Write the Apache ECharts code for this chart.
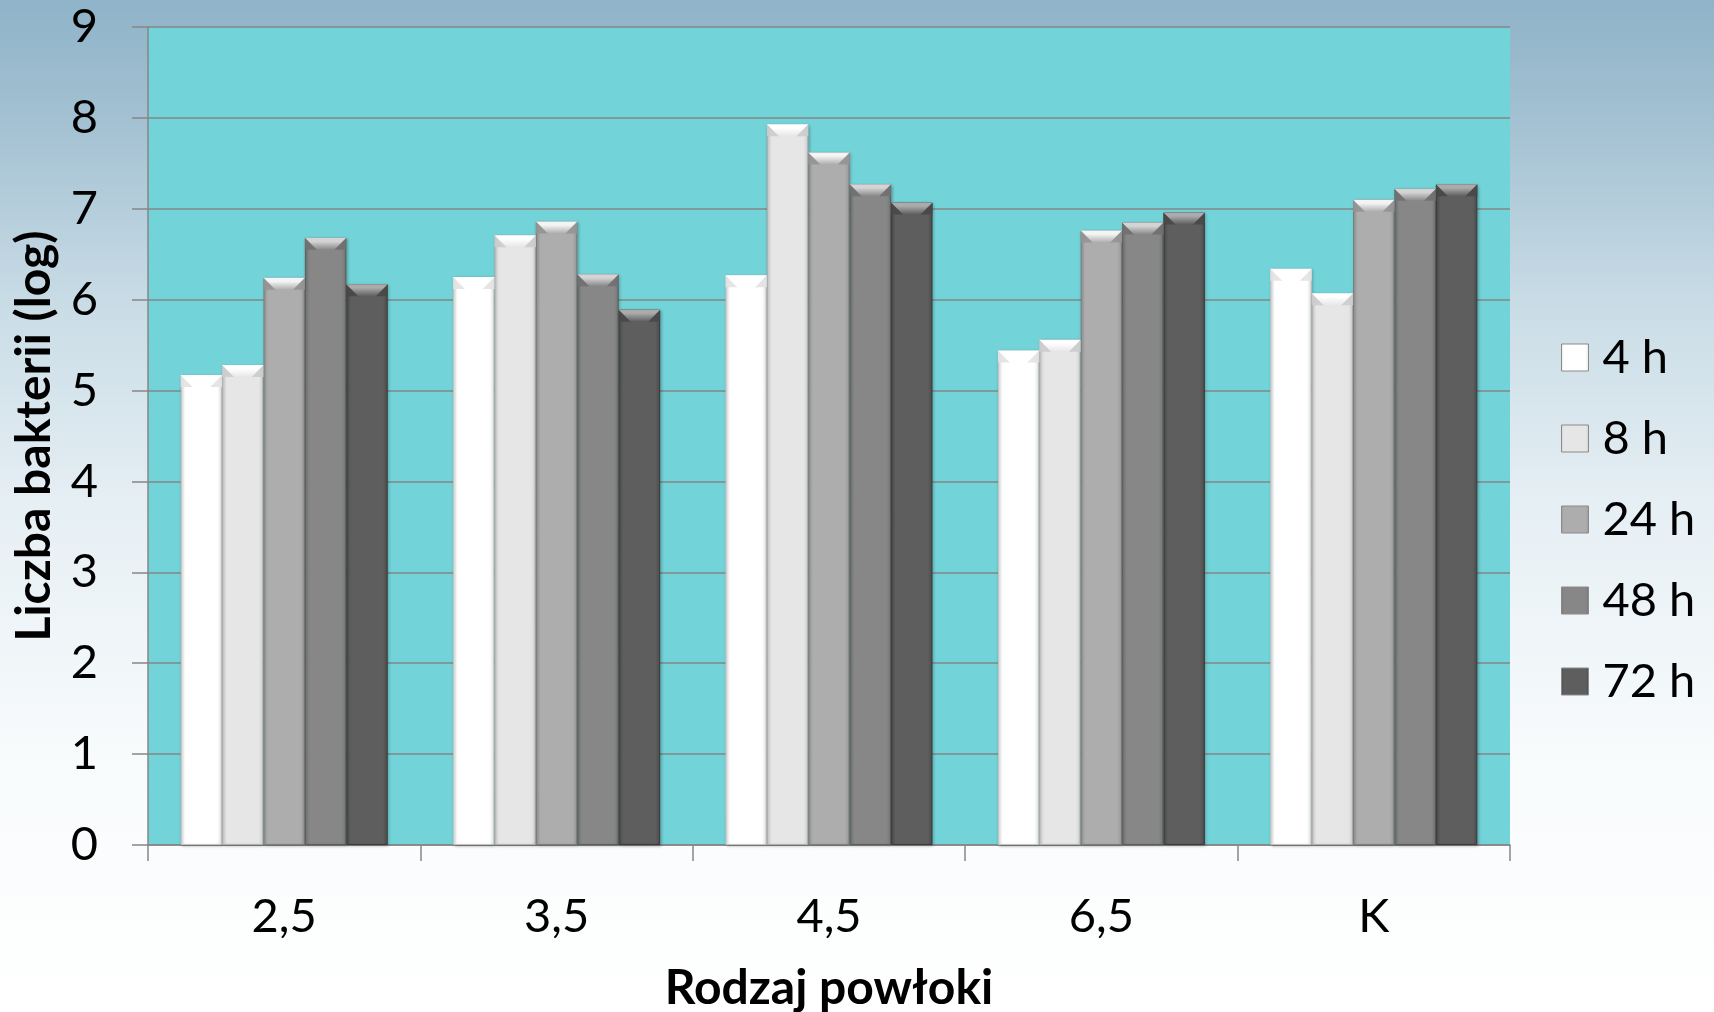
<!DOCTYPE html>
<html>
<head>
<meta charset="utf-8">
<script src="https://cdn.jsdelivr.net/npm/echarts@6/dist/echarts.min.js"></script>
<style>
  html, body { margin: 0; padding: 0; }
  #chart { width: 1714px; height: 1012px; }
</style>
</head>
<body>
<div id="chart"></div>
<script>
// Coating types and bacterial counts (log) after each incubation time
const categories = ['2,5', '3,5', '4,5', '6,5', 'K'];
const seriesNames = ['4 h', '8 h', '24 h', '48 h', '72 h'];
const values4h  = [5.17, 6.25, 6.27, 5.44, 6.34];
const values8h  = [5.28, 6.71, 7.93, 5.56, 6.07];
const values24h = [6.24, 6.86, 7.62, 6.76, 7.10];
const values48h = [6.68, 6.28, 7.27, 6.85, 7.22];
const values72h = [6.17, 5.89, 7.07, 6.96, 7.27];
const yTicks = [0, 1, 2, 3, 4, 5, 6, 7, 8, 9];

const allValues = [values4h, values8h, values24h, values48h, values72h];

// grey shades: face, edge, border, light top facet, side facets
const shades = [
  { face: '#ffffff', edge: '#e2e2e2', border: '#c4c4c4', light: '#ffffff', side: '#e2e2e2' },
  { face: '#e6e6e6', edge: '#d0d0d0', border: '#aeaeae', light: '#ffffff', side: '#cccccc' },
  { face: '#adadad', edge: '#999999', border: '#7c7c7c', light: '#f4f4f4', side: '#949494' },
  { face: '#878787', edge: '#777777', border: '#5c5c5c', light: '#d4d4d4', side: '#707070' },
  { face: '#5e5e5e', edge: '#4e4e4e', border: '#3a3a3a', light: '#ababab', side: '#484848' }
];

const FONT = 'Lato, "Open Sans", sans-serif';
const CAT_GAP = '24%';

const series = [];
allValues.forEach((vals, i) => {
  const s = shades[i];
  series.push({
    name: seriesNames[i],
    type: 'bar',
    xAxisIndex: 0,
    data: vals,
    barGap: '0%',
    barCategoryGap: CAT_GAP,
    z: 2,
    itemStyle: {
      color: {
        type: 'linear', x: 0, y: 0, x2: 1, y2: 0,
        colorStops: [
          { offset: 0, color: s.edge },
          { offset: 0.1, color: s.face },
          { offset: 0.88, color: s.face },
          { offset: 1, color: s.edge }
        ]
      },
      borderColor: s.border,
      borderWidth: 1,
      shadowColor: 'rgba(0,0,0,0.25)',
      shadowBlur: 3,
      shadowOffsetX: 1,
      shadowOffsetY: 1
    },
    emphasis: { disabled: true }
  });
});

// bevel on the top of each bar: darker side facets (own hidden axis so layout matches the bars)
allValues.forEach((vals, i) => {
  const s = shades[i];
  series.push({
    name: seriesNames[i] + ' side',
    type: 'pictorialBar',
    xAxisIndex: 1,
    data: vals,
    barGap: '0%',
    barCategoryGap: CAT_GAP,
    symbol: 'path://M0,0 L12,12 L0,12 Z M41,0 L41,12 L29,12 Z',
    symbolSize: ['100%', 12],
    symbolPosition: 'end',
    z: 3,
    silent: true,
    itemStyle: { color: s.side, opacity: 0.9 },
    emphasis: { disabled: true }
  });
});

// bevel on the top of each bar: light top facet
allValues.forEach((vals, i) => {
  const s = shades[i];
  series.push({
    name: seriesNames[i] + ' top',
    type: 'pictorialBar',
    xAxisIndex: 2,
    data: vals,
    barGap: '0%',
    barCategoryGap: CAT_GAP,
    symbol: 'path://M0,0 L41,0 L29,12 L12,12 Z',
    symbolSize: ['100%', 12],
    symbolPosition: 'end',
    z: 4,
    silent: true,
    itemStyle: {
      color: {
        type: 'linear', x: 0, y: 0, x2: 0, y2: 1,
        colorStops: [
          { offset: 0, color: s.light },
          { offset: 0.3, color: s.light },
          { offset: 1, color: s.face }
        ]
      }
    },
    emphasis: { disabled: true }
  });
});

const hiddenAxis = {
  type: 'category',
  data: categories,
  gridIndex: 0,
  show: false
};

const chart = echarts.init(document.getElementById('chart'), null, { renderer: 'canvas' });

chart.setOption({
  animation: false,
  backgroundColor: {
    type: 'linear', x: 0, y: 0, x2: 0, y2: 1,
    colorStops: [
      { offset: 0, color: '#8fb3c8' },
      { offset: 0.12, color: '#a3c1d2' },
      { offset: 0.3, color: '#c9dce6' },
      { offset: 0.5, color: '#e6eff4' },
      { offset: 0.75, color: '#f8fbfc' },
      { offset: 1, color: '#ffffff' }
    ]
  },
  textStyle: { fontFamily: FONT },
  grid: {
    left: 148, right: 204, top: 27, bottom: 167,
    outerBoundsMode: 'none',
    containLabel: false,
    show: true,
    backgroundColor: '#72d3d8',
    borderWidth: 0
  },
  legend: {
    data: seriesNames,
    orient: 'vertical',
    left: 1556,
    top: 329,
    itemWidth: 27,
    itemHeight: 27,
    itemGap: 34,
    icon: 'rect',
    textStyle: {
      fontFamily: FONT,
      fontSize: 47,
      lineHeight: 46,
      color: '#000000',
      padding: [0, 0, 0, 9]
    },
    itemStyle: { borderColor: '#8a8a8a', borderWidth: 1 }
  },
  xAxis: [{
    type: 'category',
    data: categories,
    name: 'Rodzaj powłoki',
    nameLocation: 'middle',
    nameGap: 120,
    nameTextStyle: { fontFamily: FONT, fontSize: 48, fontWeight: 'bold', color: '#000' },
    axisLine: { lineStyle: { color: '#868686', width: 1.5 } },
    axisTick: { show: true, length: 16, lineStyle: { color: '#868686', width: 1.5 } },
    axisLabel: { fontFamily: FONT, fontSize: 47, color: '#000', margin: 48 },
    splitLine: { show: false }
  }, hiddenAxis, hiddenAxis],
  yAxis: {
    type: 'value',
    min: yTicks[0],
    max: yTicks[yTicks.length - 1],
    interval: 1,
    name: 'Liczba bakterii (log)',
    nameLocation: 'middle',
    nameGap: 89,
    nameTextStyle: { fontFamily: FONT, fontSize: 48, fontWeight: 'bold', color: '#000' },
    axisLine: { show: true, lineStyle: { color: '#868686', width: 1.5 } },
    axisTick: { show: true, length: 16, lineStyle: { color: '#868686', width: 1.5 } },
    axisLabel: { fontFamily: FONT, fontSize: 47, color: '#000', margin: 50 },
    splitLine: { show: true, lineStyle: { color: '#868686', width: 1.5 } }
  },
  series: series
});
</script>
</body>
</html>
